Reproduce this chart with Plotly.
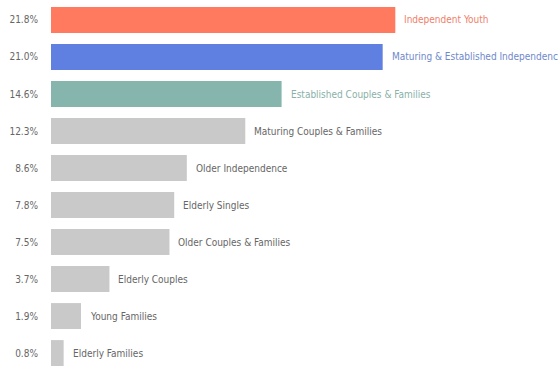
import plotly.graph_objects as go

# Household segment shares (%)
segments = [
    "Independent Youth",
    "Maturing & Established Independence",
    "Established Couples & Families",
    "Maturing Couples & Families",
    "Older Independence",
    "Elderly Singles",
    "Older Couples & Families",
    "Elderly Couples",
    "Young Families",
    "Elderly Families",
]
shares = [21.8, 21.0, 14.6, 12.3, 8.6, 7.8, 7.5, 3.7, 1.9, 0.8]
bar_colors = ["#FF7A5E", "#5F80E0", "#86B5AD"] + ["#C9C9C9"] * 7
label_colors = ["#F0806A", "#6F88CC", "#8AB0A8"] + ["#666666"] * 7
pct_labels = [f"{v:.1f}%" for v in shares]

FONT = "Liberation Sans Narrow, Arial Narrow, DejaVu Sans Condensed, sans-serif"

fig = go.Figure(
    go.Bar(
        x=shares,
        y=segments,
        orientation="h",
        marker=dict(color=bar_colors, line=dict(width=0)),
        hoverinfo="skip",
    )
)

for seg, val, col in zip(segments, shares, label_colors):
    fig.add_annotation(
        x=val, y=seg, xref="x", yref="y",
        text=seg, showarrow=False,
        xanchor="left", yanchor="middle", xshift=7,
        font=dict(family=FONT, size=10, color=col),
    )

fig.update_layout(
    width=558, height=366,
    margin=dict(l=51, r=0, t=0, b=0),
    paper_bgcolor="white", plot_bgcolor="white",
    bargap=0.3,
    showlegend=False,
    xaxis=dict(range=[0, 32.1], visible=False, fixedrange=True),
    yaxis=dict(
        type="category",
        range=[9.35, -0.54],
        tickmode="array",
        tickvals=segments,
        ticktext=pct_labels,
        ticks="",
        showgrid=False, zeroline=False, showline=False,
        ticklabelstandoff=12,
        tickfont=dict(family=FONT, size=10, color="#666666"),
        fixedrange=True,
    ),
)

fig.write_html("out.html")
